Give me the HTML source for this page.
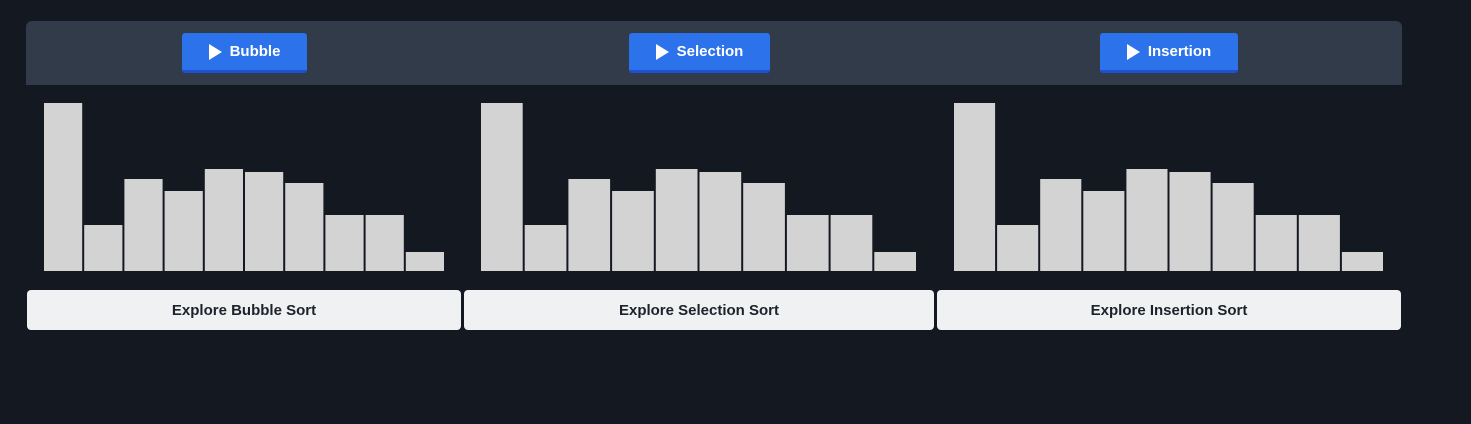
<!DOCTYPE html>
<html><head><meta charset="utf-8"><style>
body{margin:0;width:1471px;height:424px;background:#141821;font-family:"Liberation Sans",sans-serif;position:relative;overflow:hidden}
.hdr{position:absolute;left:26px;top:21px;width:1376px;height:64px;background:#323b4a;border-radius:6px 6px 0 0}
.pb{position:absolute;top:33px;height:37px;background:#2c72ea;border-bottom:3px solid #1f50d2;border-radius:3px;color:#fff;font-weight:bold;font-size:15px;display:flex;align-items:center;justify-content:center;gap:8px}
.pb .tri{width:0;height:0;border-left:13px solid #fff;border-top:8px solid transparent;border-bottom:8px solid transparent}
.eb{position:absolute;top:290px;height:40px;background:#f0f1f2;border-radius:4px;color:#1d222b;font-weight:bold;font-size:15px;display:flex;align-items:center;justify-content:center}
svg{position:absolute;left:0;top:0}
</style></head><body>
<div class="hdr"></div>
<div class="pb" style="left:182px;width:125px"><span class="tri"></span>Bubble</div>
<div class="pb" style="left:629px;width:141px"><span class="tri"></span>Selection</div>
<div class="pb" style="left:1100px;width:138px"><span class="tri"></span>Insertion</div>
<svg id="c" width="1471" height="424"></svg>
<div class="eb" style="left:27px;width:434px">Explore Bubble Sort</div>
<div class="eb" style="left:464px;width:470px">Explore Selection Sort</div>
<div class="eb" style="left:937px;width:464px">Explore Insertion Sort</div>
<script>
const values=[168,46,92,80,102,99,88,56,56,19];
const chartNames=["bubble","selection","insertion"];
const svg=document.getElementById('c');
const panels=[{x0:44,x1:446},{x0:481,x1:918},{x0:954,x1:1385}];
const base=271;
function y(v){return base-v;}
panels.forEach((p,ci)=>{
  const pitch=(p.x1-p.x0)/values.length;
  values.forEach((v,i)=>{
    const r=document.createElementNS('http://www.w3.org/2000/svg','rect');
    r.setAttribute('x',p.x0+i*pitch);
    r.setAttribute('y',y(v));
    r.setAttribute('width',pitch-2);
    r.setAttribute('height',v);
    r.setAttribute('fill','#d3d3d3');
    
    
    svg.appendChild(r);
  });
});
</script>
</body></html>
